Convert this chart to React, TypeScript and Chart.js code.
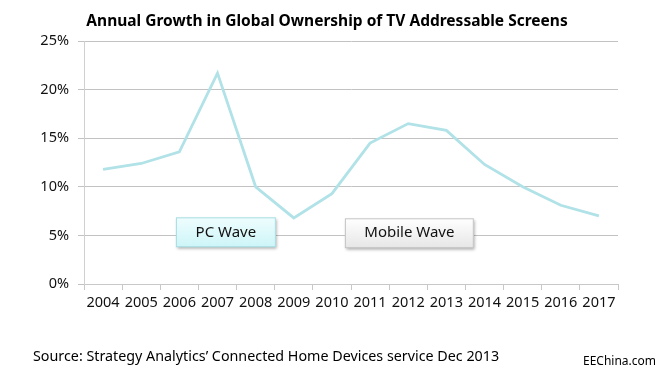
import React, { useEffect, useRef } from "react";
import { Chart, registerables } from "chart.js";

Chart.register(...registerables);

const years = ["2004","2005","2006","2007","2008","2009","2010","2011","2012","2013","2014","2015","2016","2017"];
const growth = [11.8, 12.4, 13.6, 21.7, 10.0, 6.8, 9.3, 14.5, 16.5, 15.8, 12.3, 10.0, 8.1, 7.0];
const titleText = "Annual Growth in Global Ownership of TV Addressable Screens";
const sourceText = "Source: Strategy Analytics\u2019 Connected Home Devices service Dec 2013";
const watermark = "EEChina.com";
const waveLabels = ["PC Wave", "Mobile Wave"];

const FONT = "'Noto Sans', 'Open Sans', sans-serif";

const boxes = [
  { label: waveLabels[0], x0: 1.91, x1: 4.53, yTop: 6.86, yBot: 3.79, c0: "#effdfe", c1: "#cdf5f8", border: "#a9dde2" },
  { label: waveLabels[1], x0: 6.34, x1: 9.72, yTop: 6.76, yBot: 3.69, c0: "#ffffff", c1: "#e6e6e6", border: "#c4c4c4" },
];

const decorPlugin = {
  id: "decor",
  afterDraw(chart: any) {
    const ctx = chart.ctx;
    const xs = chart.scales.x;
    const ys = chart.scales.y;
    ctx.save();
    for (const b of boxes) {
      const l = xs.getPixelForValue(b.x0);
      const r = xs.getPixelForValue(b.x1);
      const t = ys.getPixelForValue(b.yTop);
      const bt = ys.getPixelForValue(b.yBot);
      ctx.save();
      ctx.shadowColor = "rgba(0,0,0,0.35)";
      ctx.shadowBlur = 3;
      ctx.shadowOffsetX = 1;
      ctx.shadowOffsetY = 2;
      const g = ctx.createLinearGradient(0, t, 0, bt);
      g.addColorStop(0, b.c0);
      g.addColorStop(1, b.c1);
      ctx.fillStyle = g;
      ctx.fillRect(l, t, r - l, bt - t);
      ctx.restore();
      ctx.strokeStyle = b.border;
      ctx.lineWidth = 1;
      ctx.strokeRect(l + 0.5, t + 0.5, r - l - 1, bt - t - 1);
      ctx.fillStyle = "#111";
      ctx.font = `15px ${FONT}`;
      ctx.textAlign = "center";
      ctx.textBaseline = "middle";
      ctx.fillText(b.label, (l + r) / 2, (t + bt) / 2);
    }
    ctx.fillStyle = "#000";
    ctx.font = `bold 15.5px ${FONT}`;
    ctx.textAlign = "center";
    ctx.textBaseline = "middle";
    ctx.fillText(titleText, 327, 22);
    ctx.font = `14.3px ${FONT}`;
    ctx.textAlign = "left";
    ctx.fillText(sourceText, 33, 357);
    ctx.font = `12px 'Liberation Sans Narrow', ${FONT}`;
    ctx.fillText(watermark, 583, 362);
    ctx.restore();
  },
};

export default function App() {
  const ref = useRef<HTMLCanvasElement | null>(null);
  useEffect(() => {
    if (!ref.current) return;
    const chart = new Chart(ref.current, {
      type: "line",
      data: {
        labels: years,
        datasets: [
          {
            data: growth,
            borderColor: "#b0e2e7",
            borderWidth: 2.8,
            pointRadius: 0,
            tension: 0,
            fill: false,
          },
        ],
      },
      options: {
        animation: false,
        responsive: false,
        maintainAspectRatio: false,
        layout: { padding: { left: 0, right: 38, top: 41, bottom: 60 } },
        plugins: { legend: { display: false }, title: { display: false }, tooltip: { enabled: false } },
        scales: {
          x: {
            offset: true,
            grid: { display: true, offset: true, drawOnChartArea: false, drawTicks: true, tickLength: 6, color: "#c8c8c8" },
            border: { color: "#c8c8c8" },
            ticks: { color: "#111", font: { family: FONT, size: 14.5 }, padding: 4, maxRotation: 0, autoSkip: false },
            afterFit: (s: any) => { s.height = 33; },
          },
          y: {
            min: 0,
            max: 25,
            grid: { color: "#c2c2c2", tickLength: 6 },
            border: { color: "#d0d0d0" },
            ticks: {
              stepSize: 5,
              color: "#111",
              font: { family: FONT, size: 14.5 },
              padding: 9,
              callback: (v: any) => `${v}%`,
            },
            afterFit: (s: any) => { s.width = 84; },
          },
        },
      },
      plugins: [decorPlugin],
    });
    return () => chart.destroy();
  }, []);
  return (
    <div style={{ position: "fixed", left: 0, top: 0, width: 656, height: 377, background: "#fff" }}>
      <canvas ref={ref} width={656} height={377} style={{ width: 656, height: 377 }} />
    </div>
  );
}
